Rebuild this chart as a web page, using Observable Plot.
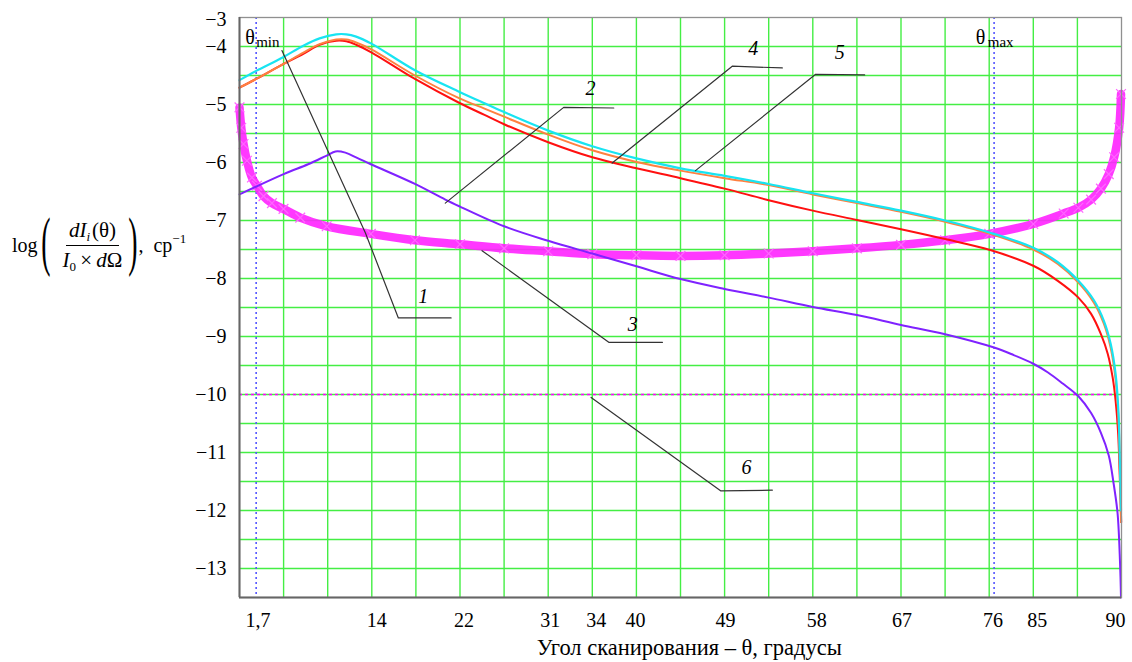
<!DOCTYPE html>
<html><head><meta charset="utf-8">
<script src="https://cdn.jsdelivr.net/npm/d3@7"></script>
<script src="https://cdn.jsdelivr.net/npm/@observablehq/plot@0.6"></script>
<style>
body{margin:0;background:#fff;}
#wrap{position:relative;width:1132px;height:662px;font-family:"Liberation Serif","Times New Roman",serif;}
#ylab{position:absolute;left:12px;top:245px;transform:translateY(-50%);display:flex;align-items:center;font-size:20px;color:#000;white-space:nowrap;font-family:"Liberation Serif",serif;}
.paren{font-size:66px;display:inline-block;transform:scaleX(0.42);width:11px;text-align:center;line-height:1;margin-top:-8px;}
.frac{display:inline-flex;flex-direction:column;align-items:center;margin:0 0 0 11px;font-size:21px;}
.num{padding:0 3px 2px;border-bottom:1.2px solid #000;line-height:1.15}
.den{padding:2px 3px 0;line-height:1.15}
sub{font-size:13px;vertical-align:-4px;line-height:0}
sup{font-size:13px;vertical-align:9px;line-height:0}
.tail{margin-left:2px}
</style></head><body>
<div id="wrap"><div id="chart"></div>
<div id="ylab"><span>log</span><span class="paren">(</span><span class="frac"><span class="num"><i>dI</i><sub><i>i</i></sub>&#8202;(θ)</span><span class="den"><i>I</i><sub>0</sub>&#8201;×&#8201;<i>d</i>Ω</span></span><span class="paren">)</span><span class="tail">,&nbsp;&nbsp;ср<sup>−1</sup></span></div>
</div>
<script>
// ---- tick labels ----
const xTickPos = [1.9, 14, 22.9, 31.7, 36.4, 40.4, 49.6, 58.9, 67.6, 76.9, 81.4, 89.4];
const xTickLabels = ["1,7", "14", "22", "31", "34", "40", "49", "58", "67", "76", "85", "90"];
const yTickPos = [-3.54, -4, -5, -6, -7, -8, -9, -10, -11, -12, -13];
const yTickLabels = ["−3", "−4", "−5", "−6", "−7", "−8", "−9", "−10", "−11", "−12", "−13"];
const gridX = d3.range(4.5, 90, 4.5);
const gridY = d3.range(-4, -13.01, -0.5);
const thetaMin = 1.7, thetaMax = 77;
const level6 = -10;

// ---- curve 5 (cyan) ----
const cyanTheta = [0, 1.7, 4.4, 6.47, 8.17, 9.87, 10.9, 11.9, 13.45, 17.9, 22.4, 25, 27, 31.5, 36, 40.5, 45, 49.5, 54, 58.5, 63, 67.5, 72, 76.6, 81, 83.5, 85.6, 87.2, 88.2, 88.9, 89.4, 89.7, 89.85, 89.95];
const cyanLog = [-4.58, -4.42, -4.19, -3.99, -3.86, -3.79, -3.79, -3.83, -3.95, -4.41, -4.78, -4.98, -5.13, -5.45, -5.72, -5.93, -6.10, -6.23, -6.37, -6.53, -6.68, -6.83, -7.0, -7.21, -7.47, -7.72, -8.04, -8.38, -8.73, -9.13, -9.65, -10.34, -11.26, -12.0];
// ---- orange ----
const orangeTheta = [0, 1.7, 4.5, 6.47, 8.17, 9.87, 10.9, 11.9, 13.45, 17.9, 22.4, 25, 27, 31.5, 36, 40.5, 45, 49.5, 54, 58.5, 63, 67.5, 72, 77, 81, 83.5, 85.6, 87.2, 88.2, 88.9, 89.4, 89.7, 89.85, 89.95];
const orangeLog = [-4.71, -4.56, -4.30, -4.11, -3.96, -3.88, -3.88, -3.93, -4.05, -4.50, -4.89, -5.07, -5.21, -5.52, -5.79, -5.99, -6.14, -6.27, -6.39, -6.55, -6.70, -6.85, -7.02, -7.25, -7.50, -7.75, -8.07, -8.42, -8.78, -9.2, -9.75, -10.45, -11.4, -12.2];
// ---- red ----
const redTheta = [0, 1.7, 4.5, 6.47, 8.17, 9.87, 10.9, 11.9, 13.45, 17.9, 22.4, 25, 27, 31.5, 36, 40.5, 45, 49.5, 54, 58.5, 63, 67.5, 72, 76.6, 81, 83.5, 85.6, 86.9, 87.9, 88.6, 89.1, 89.4, 89.66, 89.8, 89.9, 89.97];
const redLog = [-4.71, -4.56, -4.30, -4.13, -3.97, -3.90, -3.91, -3.97, -4.10, -4.56, -4.97, -5.18, -5.34, -5.65, -5.91, -6.10, -6.27, -6.45, -6.65, -6.83, -6.99, -7.15, -7.32, -7.51, -7.78, -8.04, -8.33, -8.61, -8.96, -9.30, -9.71, -10.11, -10.68, -11.3, -11.8, -12.2];
// ---- purple ----
const purpleTheta = [0, 4.5, 7, 8.9, 9.8, 10.8, 12, 13.4, 17.9, 21.0, 22.5, 27, 31.5, 36, 40.5, 45, 49.5, 54, 58.5, 63, 67.5, 72, 77, 79, 81, 82.5, 84, 85.6, 86.9, 87.9, 88.7, 89.2, 89.6, 89.85, 89.95];
const purpleLog = [-6.55, -6.2, -6.03, -5.88, -5.81, -5.83, -5.92, -6.03, -6.37, -6.64, -6.76, -7.10, -7.35, -7.57, -7.79, -8.01, -8.18, -8.33, -8.49, -8.63, -8.80, -8.96, -9.19, -9.32, -9.47, -9.62, -9.81, -10.03, -10.32, -10.66, -11.05, -11.54, -12.05, -12.9, -13.5];
// ---- magenta x-marker curve ----
const magentaTheta = [0, 0.18, 0.41, 0.76, 1.27, 1.78, 2.45, 3.31, 4.49, 6.2, 8.9, 13.4, 17.9, 22.5, 27, 31.5, 36, 40.5, 45, 49.5, 54, 58.5, 63, 67.5, 72, 76.5, 81, 84.1, 85.6, 86.9, 87.9, 88.7, 89.25, 89.76, 89.95];
const magentaLog = [-5.05, -5.40, -5.68, -5.97, -6.26, -6.40, -6.58, -6.70, -6.80, -6.95, -7.10, -7.23, -7.34, -7.41, -7.48, -7.53, -7.58, -7.60, -7.61, -7.60, -7.57, -7.53, -7.48, -7.42, -7.34, -7.23, -7.06, -6.88, -6.78, -6.64, -6.45, -6.2, -5.91, -5.4, -4.82];

// ---- leader lines and curve numbers ----
const leaderId = ["1","1","1","1","2","2","2","3","3","3","4","4","4","5","5","5","6","6","6"];
const leaderTheta = [4.33, 12.84, 16.21, 21.59, 21.0, 33.08, 38.19, 24.75, 37.68, 43.16, 38.03, 50.28, 55.39, 46.53, 58.79, 63.79, 35.88, 49.09, 54.37];
const leaderLog = [-4.07, -7.21, -8.68, -8.68, -6.70, -5.05, -5.06, -7.52, -9.10, -9.10, -6.01, -4.34, -4.37, -6.14, -4.48, -4.49, -10.05, -11.66, -11.65];
const numText = ["1", "2", "3", "4", "5", "6"];
const numTheta = [18.75, 35.81, 40.13, 52.43, 61.24, 51.74];
const numLog = [-8.31, -4.73, -8.79, -4.04, -4.10, -11.26];

const rows = (t, v) => t.map((x, i) => ({x, y: v[i]}));
const leaders = leaderTheta.map((x, i) => ({x, y: leaderLog[i], id: leaderId[i]}));
const serif = "Liberation Serif, Times New Roman, serif";
const smooth = "catmull-rom";

const chart = Plot.plot({
  width: 1132, height: 662,
  marginLeft: 239, marginRight: 11, marginTop: 17, marginBottom: 65,
  style: {fontFamily: serif, background: "#fff", overflow: "visible"},
  x: {domain: [0, 90], axis: null},
  y: {domain: [-13.5, -3.5], axis: null},
  marks: [
    Plot.ruleX(gridX, {stroke: "#44ee44", strokeWidth: 1.4}),
    Plot.ruleY(gridY, {stroke: "#44ee44", strokeWidth: 1.4}),
    Plot.ruleX([thetaMin, thetaMax], {stroke: "#5555ff", strokeWidth: 1.6, strokeDasharray: "2,3"}),
    Plot.ruleY([level6], {stroke: "#ff00ff", strokeWidth: 1.6, strokeDasharray: "3,3"}),
    Plot.line(rows(magentaTheta, magentaLog), {x: "x", y: "y", stroke: "#ff22ff", strokeWidth: 8.5, strokeOpacity: 0.9, curve: smooth}),
    Plot.dot(rows(magentaTheta, magentaLog), {x: "x", y: "y", symbol: "times", r: 4.5, stroke: "#ff66ff", strokeWidth: 1.2}),
    Plot.line(rows(purpleTheta, purpleLog), {x: "x", y: "y", stroke: "#7f22ff", strokeWidth: 2, curve: smooth}),
    Plot.line(rows(redTheta, redLog), {x: "x", y: "y", stroke: "#ff1010", strokeWidth: 2, curve: smooth}),
    Plot.line(rows(orangeTheta, orangeLog), {x: "x", y: "y", stroke: "#ff8040", strokeWidth: 2, curve: smooth}),
    Plot.line(rows(cyanTheta, cyanLog), {x: "x", y: "y", stroke: "#18e4f2", strokeWidth: 2.2, curve: smooth}),
    Plot.line(leaders, {x: "x", y: "y", z: "id", stroke: "#333", strokeWidth: 1.2}),
    Plot.text(numText, {x: (d, i) => numTheta[i], y: (d, i) => numLog[i], text: d => d, fontSize: 20, fontStyle: "italic", fontFamily: serif}),
    Plot.text(["θ", "θ"], {x: (d, i) => [0.58, 75.12][i], y: -3.85, text: d => d, textAnchor: "start", fontSize: 20, fontFamily: serif}),
    Plot.text(["min", "max"], {x: (d, i) => [1.7, 76.35][i], y: -3.93, text: d => d, textAnchor: "start", fontSize: 15, fontFamily: serif}),
    Plot.frame({stroke: "#909090", strokeWidth: 1.3}),
    Plot.ruleX([0], {stroke: "#666", strokeWidth: 2}),
    Plot.ruleY([-13.5], {stroke: "#666", strokeWidth: 2}),
    Plot.text(yTickLabels, {x: 0, y: (d, i) => yTickPos[i], text: d => d, textAnchor: "end", dx: -13, fontSize: 20, fontFamily: serif}),
    Plot.text(xTickLabels, {x: (d, i) => xTickPos[i], y: -13.5, text: d => d, dy: 23, fontSize: 20, fontFamily: serif}),
    Plot.text(["Угол сканирования – θ, градусы"], {x: 45.9, y: -13.5, text: d => d, dy: 50, fontSize: 22.5, fontFamily: serif})
  ]
});
document.getElementById("chart").appendChild(chart);
</script>
</body></html>
